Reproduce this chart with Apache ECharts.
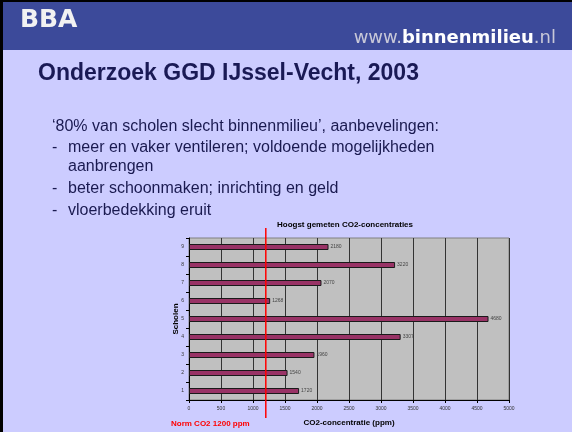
<!DOCTYPE html>
<html><head><meta charset="utf-8">
<script src="https://cdn.jsdelivr.net/npm/echarts@6/dist/echarts.min.js"></script>
<style>html,body{margin:0;padding:0;background:#ccccff}#c{width:572px;height:432px}</style>
</head><body><div id="c"></div>
<script>
const schools = ['1','2','3','4','5','6','7','8','9'];
const co2Values = [1720, 1540, 1960, 3307, 4680, 1268, 2070, 3220, 2180];
const xTicks = [0, 500, 1000, 1500, 2000, 2500, 3000, 3500, 4000, 4500, 5000];
const normValue = 1200;
const slideTitle = 'Onderzoek GGD IJssel-Vecht, 2003';
const bodyLines = [
  {dash: false, text: '\u201880% van scholen slecht binnenmilieu\u2019, aanbevelingen:'},
  {dash: true, text: 'meer en vaker ventileren; voldoende mogelijkheden'},
  {dash: false, cont: true, text: 'aanbrengen'},
  {dash: true, text: 'beter schoonmaken; inrichting en geld'},
  {dash: true, text: 'vloerbedekking eruit'}
];
const chartTitle = 'Hoogst gemeten CO2-concentraties';
const xName = 'CO2-concentratie (ppm)';
const yName = 'Scholen';
const normLabel = 'Norm CO2 1200 ppm';

const FONT = '"Liberation Sans", Arial, sans-serif';
const WIDE = '"DejaVu Sans", Verdana, sans-serif';
const chart = echarts.init(document.getElementById('c'), null, {renderer: 'canvas'});

const lineYs = [127, 148, 167, 189, 211];
const bodyGraphics = [];
bodyLines.forEach((l, i) => {
  if (l.dash) bodyGraphics.push({type:'text', x:52, y:lineYs[i], style:{text:'-', font:'16px '+FONT, fill:'#1a1a50', verticalAlign:'middle'}});
  bodyGraphics.push({type:'text', x: (l.dash||l.cont) ? 68 : 52, y:lineYs[i],
    style:{text:l.text, font:'16px '+FONT, fill:'#1a1a50', verticalAlign:'middle'}});
});

chart.setOption({
  animation: false,
  backgroundColor: '#ccccff',
  grid: {left:189, right:63, top:238, bottom:32, show:true, backgroundColor:'#c0c0c0', borderColor:'#808080', borderWidth:1},
  xAxis: {
    type:'value', min:0, max:5000, interval:500,
    axisLine:{show:true, lineStyle:{color:'#000', width:1}},
    axisTick:{show:true, length:3, lineStyle:{color:'#000'}},
    axisLabel:{fontSize:5, color:'#333', fontFamily:FONT, margin:6,
      formatter: v => xTicks.indexOf(v) >= 0 ? String(v) : ''},
    splitLine:{show:true, lineStyle:{color:'#333', width:1}},
    name:xName, nameLocation:'middle', nameGap:19, nameMoveOverlap:false,
    nameTextStyle:{fontSize:8, fontWeight:'bold', color:'#000', fontFamily:FONT}
  },
  yAxis: {
    type:'category', data:schools,
    axisLine:{show:true, lineStyle:{color:'#000', width:1}},
    axisTick:{show:true, length:3, lineStyle:{color:'#000'}},
    axisLabel:{fontSize:5, color:'#333', fontFamily:FONT, margin:5},
    splitLine:{show:false},
    name:yName, nameLocation:'middle', nameGap:9, nameRotate:90, nameMoveOverlap:false,
    nameTextStyle:{fontSize:8, fontWeight:'bold', color:'#000', fontFamily:FONT}
  },
  series: [{
    type:'bar', data:co2Values, barWidth:6,
    itemStyle:{color:'#993366', borderColor:'#1a1a1a', borderWidth:1},
    label:{show:true, position:'right', distance:2, fontSize:5, color:'#444', fontFamily:FONT}
  }],
  graphic: [
    {type:'rect', shape:{x:0, y:0, width:572, height:50}, style:{fill:'#3c4a9a'}},
    {type:'rect', shape:{x:0, y:0, width:572, height:2}, style:{fill:'#000'}},
    {type:'rect', shape:{x:0, y:0, width:3, height:432}, style:{fill:'#000'}},
    {type:'text', x:20, y:20, style:{text:'BBA', font:'bold 25px '+WIDE, fill:'#f2f2f2', verticalAlign:'middle'}},
    {type:'text', x:556, y:38, style:{
      text:'{a|www.}{b|binnenmilieu}{a|.nl}', align:'right', verticalAlign:'middle',
      rich:{a:{font:'18px '+WIDE, fill:'#c8c8d8'}, b:{font:'bold 18px '+WIDE, fill:'#ffffff'}}}},
    {type:'text', x:38, y:74, style:{text:slideTitle, font:'bold 23px '+FONT, fill:'#1a1a55', verticalAlign:'middle'}},
    ...bodyGraphics,
    {type:'text', x:345, y:225, style:{text:chartTitle, font:'bold 8px '+FONT, fill:'#000', align:'center', verticalAlign:'middle'}},
    {type:'text', x:171, y:424, style:{text:normLabel, font:'bold 8px '+FONT, fill:'#ff0000', verticalAlign:'middle'}}
  ]
});

const nx = chart.convertToPixel({xAxisIndex:0}, normValue);
chart.setOption({graphic: [
  {type:'line', id:'norm', shape:{x1:nx, y1:228, x2:nx, y2:418}, style:{stroke:'#ff0000', lineWidth:1.5}, z:100}
]});
</script></body></html>
